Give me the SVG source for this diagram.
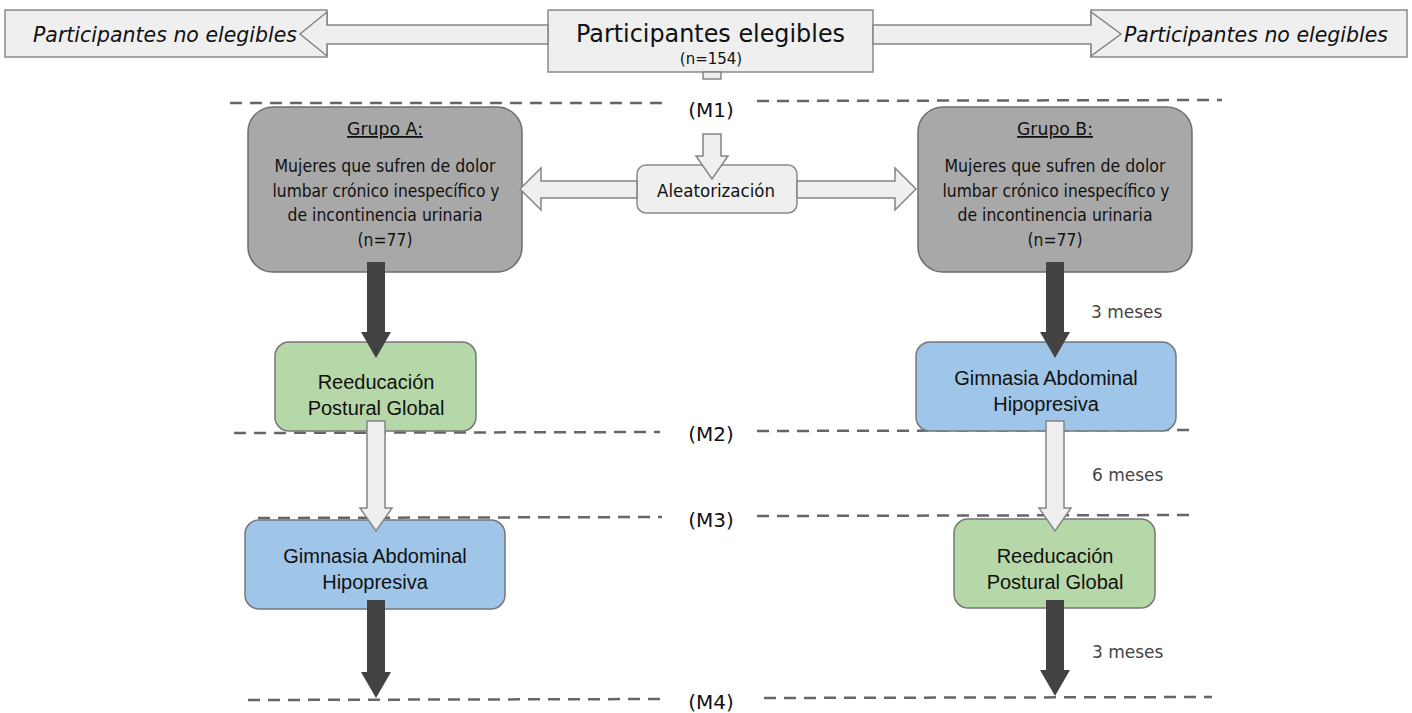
<svg xmlns="http://www.w3.org/2000/svg" width="1412" height="713" viewBox="0 0 1412 713">
<style>
.t{font-family:"DejaVu Sans",Verdana,sans-serif;fill:#111;}
.a{font-family:"Liberation Sans",Arial,sans-serif;fill:#111;}
.box{fill:#efefef;stroke:#8a8a8a;stroke-width:1.5;}
.grp{fill:#a8a8a8;stroke:#6e6e6e;stroke-width:1.5;}
.green{fill:#b6d7a8;stroke:#777;stroke-width:1.5;}
.blue{fill:#9fc5e8;stroke:#777;stroke-width:1.5;}
.la{fill:#efefef;stroke:#858585;stroke-width:1.5;}
.da{fill:#424242;stroke:none;}
.dash{stroke:#666;stroke-width:2.5;stroke-dasharray:12 8;fill:none;}
.m{font-family:"DejaVu Sans",Verdana,sans-serif;font-size:20px;fill:#111;text-anchor:middle;}
.mes{font-family:"DejaVu Sans",Verdana,sans-serif;font-size:17px;fill:#444;}
.g{font-size:18px;text-anchor:middle;}
</style>
<g id="timeline">
<line class="dash" x1="230" y1="103" x2="670" y2="103"/>
<line class="dash" x1="757" y1="101" x2="1222" y2="100"/>
<text class="m" x="711" y="117">(M1)</text>
<line class="dash" x1="234" y1="433" x2="660" y2="432"/>
<line class="dash" x1="757" y1="431" x2="1197" y2="430"/>
<text class="m" x="711" y="441">(M2)</text>
<line class="dash" x1="258" y1="518" x2="662" y2="517"/>
<line class="dash" x1="757" y1="516" x2="1197" y2="515"/>
<text class="m" x="711" y="527">(M3)</text>
<line class="dash" x1="248" y1="700" x2="667" y2="699"/>
<line class="dash" x1="764" y1="698" x2="1212" y2="697"/>
<text class="m" x="711" y="709">(M4)</text>
</g>
<g id="no-elegibles-left">
<rect class="box" x="5" y="10" width="322" height="47"/>
<text class="t" x="33" y="42" font-size="21" font-style="italic" textLength="264" lengthAdjust="spacingAndGlyphs">Participantes no elegibles</text>
</g>
<g id="no-elegibles-right">
<rect class="box" x="1091" y="10" width="316" height="47"/>
<text class="t" x="1124" y="42" font-size="21" font-style="italic" textLength="264" lengthAdjust="spacingAndGlyphs">Participantes no elegibles</text>
</g>
<g id="elegibles">
<rect class="box" x="548" y="10" width="325" height="62"/>
<text class="t" x="576" y="42" font-size="25.5" textLength="269" lengthAdjust="spacingAndGlyphs">Participantes elegibles</text>
<text class="t" x="711" y="64" font-size="15" text-anchor="middle">(n=154)</text>
</g>
<g id="aleatorizacion">
<rect class="box" x="637" y="165" width="160" height="48" rx="9"/>
<text class="t" x="657" y="197" font-size="18" textLength="118" lengthAdjust="spacingAndGlyphs">Aleatorización</text>
</g>
<g id="grupo-a">
<rect class="grp" x="248" y="107" width="274" height="165" rx="25"/>
<text class="t g" x="385" y="135" font-size="16" text-decoration="underline" textLength="76" lengthAdjust="spacingAndGlyphs">Grupo A:</text>
<text class="t g" x="385" y="172" textLength="221" lengthAdjust="spacingAndGlyphs">Mujeres que sufren de dolor</text>
<text class="t g" x="386" y="197" textLength="227" lengthAdjust="spacingAndGlyphs">lumbar crónico inespecífico y</text>
<text class="t g" x="385" y="221" textLength="195" lengthAdjust="spacingAndGlyphs">de incontinencia urinaria</text>
<text class="t g" x="385" y="246" textLength="55" lengthAdjust="spacingAndGlyphs">(n=77)</text>
</g>
<g id="grupo-b">
<rect class="grp" x="918" y="107" width="274" height="165" rx="25"/>
<text class="t g" x="1055" y="135" font-size="16" text-decoration="underline" textLength="76" lengthAdjust="spacingAndGlyphs">Grupo B:</text>
<text class="t g" x="1055" y="172" textLength="221" lengthAdjust="spacingAndGlyphs">Mujeres que sufren de dolor</text>
<text class="t g" x="1056" y="197" textLength="227" lengthAdjust="spacingAndGlyphs">lumbar crónico inespecífico y</text>
<text class="t g" x="1055" y="221" textLength="195" lengthAdjust="spacingAndGlyphs">de incontinencia urinaria</text>
<text class="t g" x="1055" y="246" textLength="55" lengthAdjust="spacingAndGlyphs">(n=77)</text>
</g>
<g id="rpg-a">
<rect class="green" x="275" y="342" width="201" height="89" rx="14"/>
<text class="a" x="376" y="389" font-size="20" text-anchor="middle">Reeducación</text>
<text class="a" x="376" y="415" font-size="20" text-anchor="middle">Postural Global</text>
</g>
<g id="gah-a">
<rect class="blue" x="245" y="520" width="260" height="89" rx="14"/>
<text class="a" x="375" y="563" font-size="20" text-anchor="middle">Gimnasia Abdominal</text>
<text class="a" x="375" y="589" font-size="20" text-anchor="middle">Hipopresiva</text>
</g>
<g id="gah-b">
<rect class="blue" x="916" y="342" width="260" height="89" rx="14"/>
<text class="a" x="1046" y="385" font-size="20" text-anchor="middle">Gimnasia Abdominal</text>
<text class="a" x="1046" y="411" font-size="20" text-anchor="middle">Hipopresiva</text>
</g>
<g id="rpg-b">
<rect class="green" x="954" y="519" width="201" height="89" rx="14"/>
<text class="a" x="1055" y="563" font-size="20" text-anchor="middle">Reeducación</text>
<text class="a" x="1055" y="589" font-size="20" text-anchor="middle">Postural Global</text>
</g>
<g id="connectors">
<path class="la" d="M548,25 L327,25 L327,12 L300,34 L327,56 L327,44 L548,44 Z"/>
<path class="la" d="M873,25 L1091,25 L1091,12 L1121,34 L1091,56 L1091,44 L873,44 Z"/>
<rect class="la" x="703" y="72" width="18" height="7"/>
<path class="la" d="M703,134 L721,134 L721,156 L728,156 L712,179 L696,156 L703,156 Z"/>
<path class="la" d="M637,181 L541,181 L541,168 L520,189 L541,210 L541,198 L637,198 Z"/>
<path class="la" d="M797,181 L895,181 L895,168 L916,189 L895,210 L895,198 L797,198 Z"/>
<path class="da" d="M367,262 L385,262 L385,332 L391,332 L376,358 L361,332 L367,332 Z"/>
<path class="la" d="M367,421 L385,421 L385,508 L392,508 L376,531 L360,508 L367,508 Z"/>
<path class="da" d="M367,600 L385,600 L385,672 L391,672 L376,698 L361,672 L367,672 Z"/>
<path class="da" d="M1046,262 L1064,262 L1064,332 L1070,332 L1055,358 L1040,332 L1046,332 Z"/>
<path class="la" d="M1046,421 L1064,421 L1064,508 L1071,508 L1055,531 L1039,508 L1046,508 Z"/>
<path class="da" d="M1046,600 L1064,600 L1064,670 L1070,670 L1055,696 L1040,670 L1046,670 Z"/>
<text class="mes" x="1091" y="318">3 meses</text>
<text class="mes" x="1092" y="481">6 meses</text>
<text class="mes" x="1092" y="658">3 meses</text>
</g>
</svg>
